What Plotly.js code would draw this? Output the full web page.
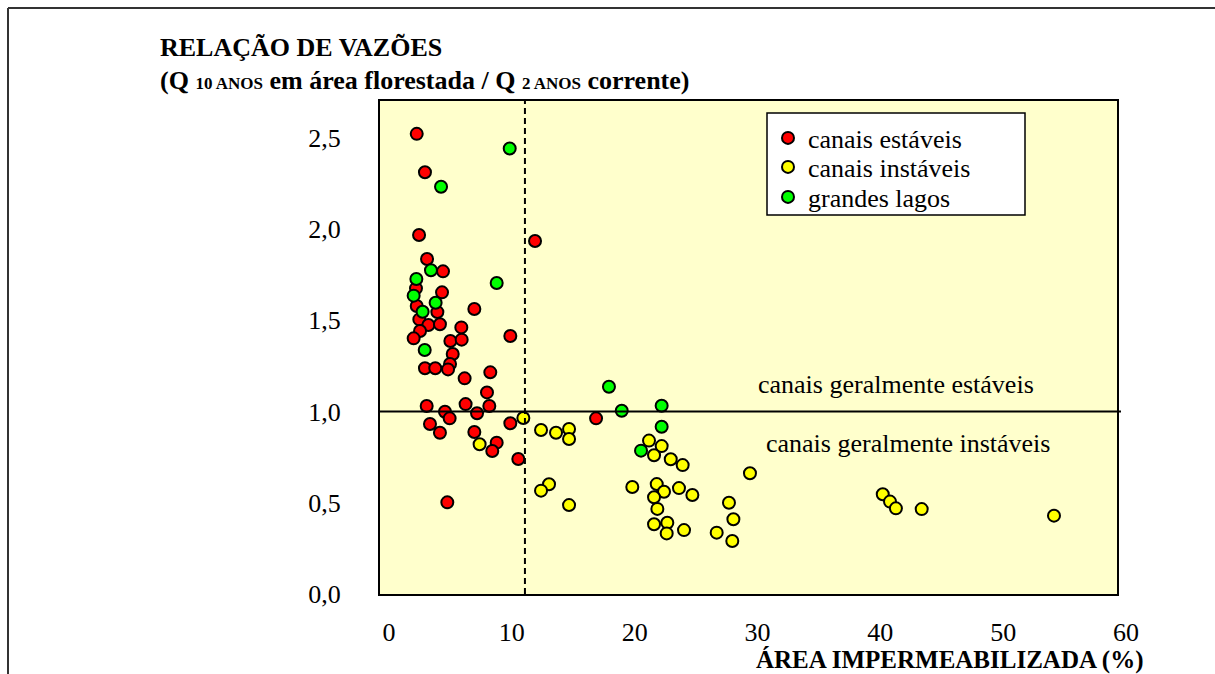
<!DOCTYPE html>
<html>
<head>
<meta charset="utf-8">
<script src="https://cdn.plot.ly/plotly-3.0.1.min.js"></script>
<style>html,body{margin:0;padding:0;background:#fff;}#chart{width:1215px;height:674px;}</style>
</head>
<body>
<div id="chart"></div>
<script>
// ---- data (x = área impermeabilizada %, y = relação de vazões) ----
const estaveisX = [2.99,3.66,3.18,12.62,3.83,5.13,2.93,5.05,2.99,7.68,4.67,3.2,3.94,4.88,3.26,6.62,2.74,5.73,6.65,10.61,5.92,5.70,3.66,4.5,5.54,8.98,6.89,8.71,3.8,6.97,8.9,5.29,7.9,5.67,4.07,10.61,4.88,7.68,9.5,9.14,11.26,5.48,17.59];
const estaveisY = [2.52,2.31,1.966,1.933,1.835,1.767,1.674,1.652,1.577,1.561,1.544,1.504,1.473,1.477,1.44,1.46,1.40,1.386,1.393,1.413,1.314,1.26,1.236,1.236,1.23,1.214,1.181,1.104,1.03,1.04,1.03,0.998,0.99,0.962,0.931,0.935,0.883,0.887,0.829,0.783,0.739,0.502,0.962];
const instaveisX = [11.67,8.11,13.11,14.33,15.39,15.39,21.9,22.93,22.31,23.67,24.64,30.12,13.76,13.11,15.39,20.54,22.53,23.12,24.34,25.43,22.31,22.58,28.41,28.77,22.31,23.39,23.34,24.75,27.41,28.68,40.93,41.52,42.0,44.1,54.87];
const instaveisY = [0.964,0.82,0.898,0.883,0.904,0.849,0.84,0.81,0.76,0.738,0.706,0.661,0.601,0.566,0.487,0.586,0.602,0.56,0.58,0.542,0.53,0.466,0.50,0.409,0.382,0.39,0.332,0.35,0.336,0.29,0.546,0.506,0.469,0.465,0.429];
const lagosX = [10.56,4.97,4.15,2.96,9.5,2.74,4.53,3.47,3.64,18.64,19.68,22.93,22.93,21.25];
const lagosY = [2.44,2.23,1.773,1.725,1.703,1.634,1.595,1.546,1.336,1.135,1.004,1.031,0.916,0.785];
const seriesNames = ["canais estáveis","canais instáveis","grandes lagos"];
const xTicks = [0,10,20,30,40,50,60];
const yTicks = [0,0.5,1.0,1.5,2.0,2.5];
const limiteY = 1.0;     // linha horizontal
const limiteX = 11.8;    // linha tracejada vertical

// ---- layout helpers (pixel -> paper) ----
const W = 1215, H = 674, L = 380, R = 98, T = 101, B = 80;
const PW = W - L - R, PH = H - T - B;
const px = v => (v - L) / PW;
const py = v => (H - B - v) / PH;
const FONT = "Liberation Serif, Times New Roman, Times, serif";
const FS = 26;

function mk(name, xs, ys, color, leg) {
  return {
    type: "scatter", mode: "markers", name: name, x: xs, y: ys,
    legend: leg,
    marker: {size: 12, color: color, line: {color: "#000", width: 2}},
    cliponaxis: false, hoverinfo: "x+y"
  };
}

const data = [
  mk(seriesNames[0], estaveisX, estaveisY, "#FF0000", "legend"),
  mk(seriesNames[1], instaveisX, instaveisY, "#FFFF00", "legend2"),
  mk(seriesNames[2], lagosX, lagosY, "#00FF00", "legend3")
];

function leg(yc) {
  return {
    x: px(768), y: py(yc), xanchor: "left", yanchor: "middle",
    bgcolor: "rgba(0,0,0,0)", borderwidth: 0,
    font: {family: FONT, size: FS, color: "#000"}
  };
}

const layout = {
  width: W, height: H,
  margin: {l: L, r: R, t: T, b: B, pad: 0},
  paper_bgcolor: "#FFFFFF",
  plot_bgcolor: "#FFFFCC",
  separators: ",.",
  font: {family: FONT, size: FS, color: "#000"},
  showlegend: true,
  legend: leg(138),
  legend2: leg(167),
  legend3: leg(197),
  xaxis: {
    range: [0, 60], tickvals: xTicks, ticktext: xTicks.map(String),
    showgrid: false, zeroline: false, ticks: "",
    showline: true, linecolor: "#000", linewidth: 2, mirror: true,
    ticklabelstandoff: 14, ticklabelshift: 9,
    tickfont: {family: FONT, size: FS, color: "#000"}
  },
  yaxis: {
    range: [0, 2.7], tickvals: yTicks, tickformat: ".1f",
    showgrid: false, zeroline: false, ticks: "",
    showline: true, linecolor: "#000", linewidth: 2, mirror: true,
    ticklabelstandoff: 32,
    tickfont: {family: FONT, size: FS, color: "#000"}
  },
  shapes: [
    // legend box
    {type: "rect", xref: "paper", yref: "paper", x0: px(767), x1: px(1025), y0: py(215), y1: py(113),
     fillcolor: "#FFFFFF", line: {color: "#000", width: 1.5}, layer: "above"},
    // horizontal line at 1.0
    {type: "line", xref: "paper", yref: "y", x0: 0, x1: px(1121), y0: limiteY, y1: limiteY,
     line: {color: "#000", width: 2}},
    // vertical dashed line
    {type: "line", xref: "x", yref: "paper", x0: limiteX, x1: limiteX, y0: 0, y1: 1,
     line: {color: "#000", width: 2, dash: "6px,4px"}},
    // outer frame (top and left)
    {type: "line", xref: "paper", yref: "paper", x0: px(8), x1: px(1215), y0: py(8), y1: py(8),
     line: {color: "#333", width: 2}},
    {type: "line", xref: "paper", yref: "paper", x0: px(8), x1: px(8), y0: py(8), y1: py(674),
     line: {color: "#333", width: 2}}
  ],
  annotations: [
    {xref: "paper", yref: "paper", x: px(158), y: py(47), xanchor: "left", yanchor: "middle",
     text: "<b>RELAÇÃO DE VAZÕES</b>", showarrow: false,
     font: {family: FONT, size: FS, color: "#000"}},
    {xref: "paper", yref: "paper", x: px(158), y: py(81), xanchor: "left", yanchor: "middle",
     text: "<b>(Q <span style=\"font-size:17px\">10 ANOS</span> em área florestada / Q <span style=\"font-size:17px\">2 ANOS</span> corrente)</b>",
     showarrow: false, font: {family: FONT, size: FS, color: "#000"}},
    {xref: "paper", yref: "paper", x: px(1146), y: py(660), xanchor: "right", yanchor: "middle",
     text: "<b>ÁREA IMPERMEABILIZADA (%)</b>", showarrow: false,
     font: {family: FONT, size: 25, color: "#000"}},
    {xref: "paper", yref: "paper", x: px(756), y: py(384), xanchor: "left", yanchor: "middle",
     text: "canais geralmente estáveis", showarrow: false,
     font: {family: FONT, size: FS, color: "#000"}},
    {xref: "paper", yref: "paper", x: px(764), y: py(443), xanchor: "left", yanchor: "middle",
     text: "canais geralmente instáveis", showarrow: false,
     font: {family: FONT, size: FS, color: "#000"}}
  ]
};

Plotly.newPlot("chart", data, layout, {displayModeBar: false, staticPlot: true});
</script>
</body>
</html>
